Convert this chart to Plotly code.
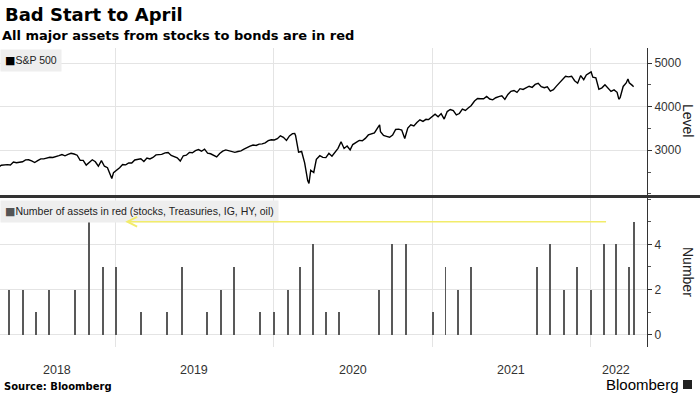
import plotly.graph_objects as go

# ---------------- data ----------------
spx_dates = [
    "2018-03-29", "2018-04-06", "2018-04-13", "2018-04-20", "2018-04-27", "2018-05-04", "2018-05-11", "2018-05-18",
    "2018-05-25", "2018-06-01", "2018-06-08", "2018-06-15", "2018-06-22", "2018-06-29", "2018-07-06", "2018-07-13",
    "2018-07-20", "2018-07-27", "2018-08-03", "2018-08-10", "2018-08-17", "2018-08-24", "2018-08-31", "2018-09-07",
    "2018-09-14", "2018-09-21", "2018-09-28", "2018-10-05", "2018-10-12", "2018-10-19", "2018-10-26", "2018-11-02",
    "2018-11-09", "2018-11-16", "2018-11-23", "2018-11-30", "2018-12-07", "2018-12-14", "2018-12-21", "2018-12-24",
    "2018-12-28",
    "2019-01-04", "2019-01-11", "2019-01-18", "2019-01-25", "2019-02-01", "2019-02-08", "2019-02-15", "2019-02-22",
    "2019-03-01", "2019-03-08", "2019-03-15", "2019-03-22", "2019-03-29", "2019-04-05", "2019-04-12", "2019-04-18",
    "2019-04-26", "2019-05-03", "2019-05-10", "2019-05-17", "2019-05-24", "2019-05-31", "2019-06-07", "2019-06-14",
    "2019-06-21", "2019-06-28", "2019-07-05", "2019-07-12", "2019-07-19", "2019-07-26", "2019-08-02", "2019-08-09",
    "2019-08-16", "2019-08-23", "2019-08-30", "2019-09-06", "2019-09-13", "2019-09-20", "2019-09-27", "2019-10-04",
    "2019-10-11", "2019-10-18", "2019-10-25", "2019-11-01", "2019-11-08", "2019-11-15", "2019-11-22", "2019-11-29",
    "2019-12-06", "2019-12-13", "2019-12-20", "2019-12-27",
    "2020-01-03", "2020-01-10", "2020-01-17", "2020-01-24", "2020-01-31", "2020-02-07", "2020-02-14", "2020-02-19",
    "2020-02-21", "2020-02-28", "2020-03-06", "2020-03-13", "2020-03-20", "2020-03-23", "2020-03-27", "2020-04-03",
    "2020-04-09", "2020-04-17", "2020-04-24", "2020-05-01", "2020-05-08", "2020-05-15", "2020-05-22", "2020-05-29",
    "2020-06-05", "2020-06-12", "2020-06-19", "2020-06-26", "2020-07-02", "2020-07-10", "2020-07-17", "2020-07-24",
    "2020-07-31", "2020-08-07", "2020-08-14", "2020-08-21", "2020-08-28", "2020-09-02", "2020-09-04", "2020-09-11",
    "2020-09-18", "2020-09-25", "2020-10-02", "2020-10-09", "2020-10-16", "2020-10-23", "2020-10-30", "2020-11-06",
    "2020-11-13", "2020-11-20", "2020-11-27", "2020-12-04", "2020-12-11", "2020-12-18", "2020-12-24", "2020-12-31",
    "2021-01-08", "2021-01-15", "2021-01-22", "2021-01-29", "2021-02-05", "2021-02-12", "2021-02-19", "2021-02-26",
    "2021-03-05", "2021-03-12", "2021-03-19", "2021-03-26", "2021-04-01", "2021-04-09", "2021-04-16", "2021-04-23",
    "2021-04-30", "2021-05-07", "2021-05-14", "2021-05-21", "2021-05-28", "2021-06-04", "2021-06-11", "2021-06-18",
    "2021-06-25", "2021-07-02", "2021-07-09", "2021-07-16", "2021-07-23", "2021-07-30", "2021-08-06", "2021-08-13",
    "2021-08-20", "2021-08-27", "2021-09-03", "2021-09-10", "2021-09-17", "2021-09-24", "2021-10-01", "2021-10-08",
    "2021-10-15", "2021-10-22", "2021-10-29", "2021-11-05", "2021-11-12", "2021-11-19", "2021-11-26", "2021-12-03",
    "2021-12-10", "2021-12-17", "2021-12-23", "2021-12-31",
    "2022-01-03", "2022-01-07", "2022-01-14", "2022-01-21", "2022-01-28", "2022-02-04", "2022-02-11", "2022-02-18",
    "2022-02-25", "2022-03-04", "2022-03-08", "2022-03-11", "2022-03-18", "2022-03-25", "2022-03-29", "2022-04-01",
    "2022-04-08", "2022-04-11",
]
spx_level = [
    2641, 2604, 2656, 2670, 2670, 2663, 2728, 2713,
    2721, 2735, 2779, 2780, 2755, 2718, 2760, 2801,
    2802, 2819, 2840, 2833, 2850, 2875, 2902, 2872,
    2905, 2930, 2914, 2886, 2767, 2768, 2658, 2723,
    2781, 2736, 2633, 2760, 2633, 2600, 2417, 2351,
    2486,
    2532, 2596, 2671, 2665, 2707, 2708, 2776, 2793,
    2804, 2743, 2822, 2800, 2834, 2893, 2907, 2905,
    2940, 2946, 2881, 2860, 2826, 2752, 2873, 2887,
    2950, 2942, 2990, 3014, 2977, 3026, 2932, 2919,
    2889, 2847, 2926, 2979, 3007, 2992, 2962, 2952,
    2970, 2986, 3023, 3067, 3093, 3120, 3110, 3141,
    3146, 3169, 3221, 3240,
    3235, 3265, 3330, 3295, 3226, 3328, 3380, 3386,
    3338, 2954, 2972, 2711, 2305, 2237, 2541, 2489,
    2790, 2875, 2837, 2831, 2930, 2864, 2955, 3044,
    3194, 3041, 3098, 3009, 3130, 3185, 3225, 3216,
    3271, 3351, 3373, 3397, 3508, 3580, 3427, 3341,
    3319, 3298, 3348, 3477, 3484, 3465, 3270, 3510,
    3585, 3558, 3638, 3699, 3663, 3709, 3703, 3756,
    3825, 3768, 3841, 3714, 3887, 3934, 3907, 3811,
    3842, 3943, 3913, 3975, 4020, 4129, 4185, 4180,
    4181, 4233, 4174, 4156, 4204, 4230, 4247, 4166,
    4281, 4352, 4370, 4327, 4412, 4395, 4437, 4468,
    4442, 4509, 4535, 4459, 4433, 4455, 4357, 4391,
    4471, 4545, 4605, 4697, 4683, 4698, 4595, 4538,
    4712, 4620, 4726, 4766,
    4796, 4677, 4663, 4398, 4432, 4501, 4419, 4349,
    4385, 4329, 4171, 4204, 4463, 4543, 4632, 4546,
    4488, 4455,
]

red_dates = [
    "2018-05-01", "2018-06-01", "2018-07-02", "2018-08-01", "2018-09-04", "2018-10-01", "2018-11-01", "2018-12-03",
    "2019-01-02", "2019-02-01", "2019-03-01", "2019-04-01", "2019-05-01", "2019-06-03", "2019-07-01", "2019-08-01",
    "2019-09-03", "2019-10-01", "2019-11-01", "2019-12-02",
    "2020-01-02", "2020-02-03", "2020-03-02", "2020-04-01", "2020-05-01", "2020-06-01", "2020-07-01", "2020-08-03",
    "2020-09-01", "2020-10-01", "2020-11-02", "2020-12-01",
    "2021-01-04", "2021-02-01", "2021-03-01", "2021-04-01", "2021-05-03", "2021-06-01", "2021-07-01", "2021-08-02",
    "2021-09-01", "2021-10-01", "2021-11-01", "2021-12-01",
    "2022-01-03", "2022-02-01", "2022-03-01", "2022-04-01", "2022-04-11",
]
red_count = [
    2, 2, 1, 2, 0, 2, 5, 3,
    3, 0, 1, 0, 1, 3, 0, 1,
    2, 3, 0, 1,
    1, 2, 3, 4, 1, 1, 0, 0,
    2, 4, 4, 0,
    1, 3, 2, 3, 0, 0, 0, 0,
    3, 4, 2, 3,
    2, 4, 4, 3, 5,
]

year_grid = ["2019-01-01", "2020-01-01", "2021-01-01", "2022-01-01"]
year_labels = ["2018", "2019", "2020", "2021", "2022"]
year_label_pos = ["2018-08-20", "2019-07-02", "2020-07-02", "2021-07-02", "2022-03-01"]

x_range = ["2018-04-10", "2022-05-12"]

# ---------------- figure ----------------
fig = go.Figure()

fig.add_trace(go.Scatter(
    x=spx_dates, y=spx_level, mode="lines",
    line=dict(color="#000000", width=1.4),
    xaxis="x", yaxis="y", showlegend=False, hoverinfo="skip",
))

fig.add_trace(go.Bar(
    x=red_dates, y=red_count,
    marker=dict(color="#595959", line=dict(width=0)),
    width=2.2 * 86400000,
    xaxis="x2", yaxis="y2", showlegend=False, hoverinfo="skip",
))

grid_col = "#e4e4e4"
common_x = dict(
    type="date", range=x_range, tickmode="array", tickvals=year_grid,
    showticklabels=False, ticks="", showgrid=True, gridcolor=grid_col,
    gridwidth=1, zeroline=False, showline=False,
)
fig.update_layout(
    xaxis=dict(anchor="y", domain=[0, 1], **common_x),
    xaxis2=dict(anchor="y2", domain=[0, 1], **common_x),
    yaxis=dict(
        domain=[0.505, 1.0], side="right", range=[1950, 5345],
        tickmode="array", tickvals=[3000, 4000, 5000],
        showline=True, linecolor="#333333", linewidth=1,
        ticks="outside", ticklen=4, tickcolor="#333333",
        minor=dict(tickmode="linear", tick0=0, dtick=500, ticks="outside",
                   ticklen=3, tickcolor="#555555", showgrid=False),
        showgrid=True, gridcolor=grid_col, zeroline=False,
        tickfont=dict(size=12, color="#333333"),
    ),
    yaxis2=dict(
        domain=[0.0, 0.502], side="right", range=[-0.55, 6.1],
        tickmode="array", tickvals=[0, 2, 4],
        showline=True, linecolor="#333333", linewidth=1,
        ticks="outside", ticklen=4, tickcolor="#333333",
        minor=dict(tickmode="linear", tick0=0, dtick=1, ticks="outside",
                   ticklen=3, tickcolor="#555555", showgrid=False),
        showgrid=True, gridcolor=grid_col, zeroline=False,
        tickfont=dict(size=12, color="#333333"),
    ),
    width=700, height=394,
    margin=dict(l=0, r=53, t=48, b=47),
    paper_bgcolor="white", plot_bgcolor="white",
    font=dict(family="Liberation Sans, Arial, sans-serif", color="#333333"),
    bargap=0,
)

# separator between panels
fig.add_shape(type="line", xref="paper", yref="paper",
              x0=0, x1=700 / 647, y0=0.5033, y1=0.5033,
              line=dict(color="#333333", width=3))

# Bloomberg logo square
fig.add_shape(type="rect", xref="paper", yref="paper",
              x0=683 / 647, x1=692 / 647, y0=(347 - 389) / 299, y1=(347 - 380) / 299,
              line=dict(width=0), fillcolor="#222222")

annotations = []
# title / subtitle
annotations.append(dict(text="<b>Bad Start to April</b>", xref="paper", yref="paper",
                        x=3 / 647, y=(347 - 14) / 299, xanchor="left", yanchor="middle",
                        showarrow=False,
                        font=dict(family="DejaVu Sans", size=18, color="#000000")))
annotations.append(dict(text="<b>All major assets from stocks to bonds are in red</b>", xref="paper", yref="paper",
                        x=0, y=(347 - 35) / 299, xanchor="left", yanchor="middle",
                        showarrow=False,
                        font=dict(family="DejaVu Sans", size=13, color="#000000")))
# panel labels
sq = "<span style='color:{c};font-family:DejaVu Sans;font-size:11px'>■</span>"
annotations.append(dict(text=sq.format(c="#000") + "S&P 500", xref="paper", yref="paper",
                        x=0, y=(347 - 61) / 299, xanchor="left", yanchor="middle",
                        showarrow=False, bgcolor="#eeeeee", borderpad=4,
                        font=dict(size=10.5, color="#222222")))
annotations.append(dict(text=sq.format(c="#555") + "Number of assets in red (stocks, Treasuries, IG, HY, oil)",
                        xref="paper", yref="paper",
                        x=0, y=(347 - 211.5) / 299, xanchor="left", yanchor="middle",
                        showarrow=False, bgcolor="#eeeeee", borderpad=4,
                        font=dict(size=10.5, color="#222222")))
# axis titles
annotations.append(dict(text="Level", xref="paper", yref="paper",
                        x=688 / 647, y=(347 - 120) / 299, xanchor="center", yanchor="middle",
                        textangle=90, showarrow=False, font=dict(size=14, color="#222222")))
annotations.append(dict(text="Number", xref="paper", yref="paper",
                        x=688 / 647, y=(347 - 272) / 299, xanchor="center", yanchor="middle",
                        textangle=90, showarrow=False, font=dict(size=14, color="#222222")))
# year labels
for lab, pos in zip(year_labels, year_label_pos):
    annotations.append(dict(text=lab, xref="x2", yref="paper", x=pos, y=(347 - 370) / 299,
                            xanchor="center", yanchor="middle", showarrow=False,
                            font=dict(size=12.5, color="#333333")))
# source and logo text
annotations.append(dict(text="<b>Source: Bloomberg</b>", xref="paper", yref="paper",
                        x=2 / 647, y=(347 - 386) / 299, xanchor="left", yanchor="middle",
                        showarrow=False, font=dict(family="DejaVu Sans", size=10, color="#000000")))
annotations.append(dict(text="Bloomberg", xref="paper", yref="paper",
                        x=681 / 647, y=(347 - 384) / 299, xanchor="right", yanchor="middle",
                        showarrow=False, font=dict(size=15, color="#000000")))
# yellow arrow
annotations.append(dict(text="", x="2019-01-24", y=5, xref="x2", yref="y2",
                        ax="2022-02-10", ay=5, axref="x2", ayref="y2",
                        showarrow=True, arrowhead=5, arrowsize=1.2, arrowwidth=1.6,
                        arrowcolor="#f2ec6a", standoff=0, startstandoff=0))
fig.update_layout(annotations=annotations)

fig.write_html("out.html", config={"displayModeBar": False},
               post_script="document.body.style.margin='0px';document.body.style.padding='0px';")
